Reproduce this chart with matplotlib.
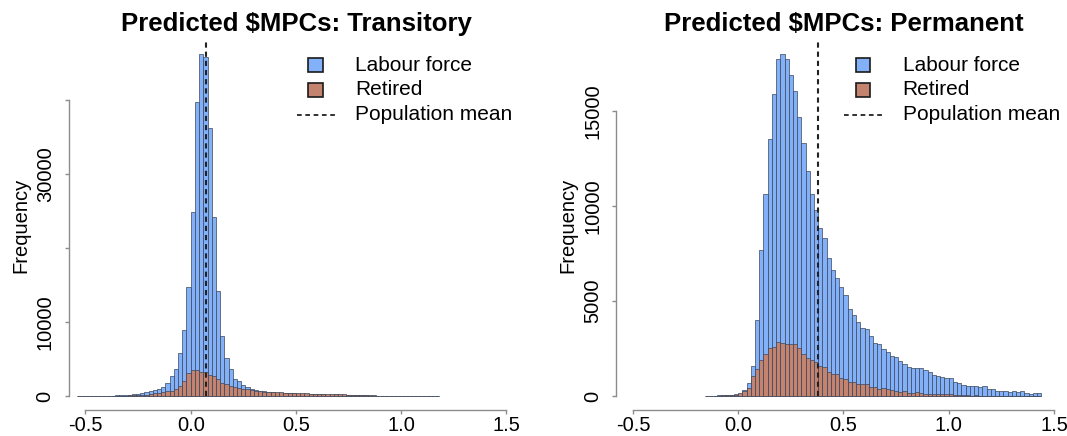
import numpy as np
import matplotlib
matplotlib.use("Agg")
import matplotlib.pyplot as plt
from matplotlib.patches import Rectangle
from matplotlib.lines import Line2D

plt.rcParams['font.family'] = ['Liberation Sans', 'DejaVu Sans']

# ---------------- data ----------------
bin_width = 0.02

# Transitory panel: bins start at -0.54
trans_start = -0.54
trans_labour = [30, 40, 40, 50, 50, 60, 60, 70, 90, 110,
                140, 170, 220, 270, 320, 400, 520, 700, 800, 1050,
                1320, 1750, 2800, 3640, 5880, 8930, 14770, 24870, 39700, 46200,
                45750, 36190, 24200, 14230, 8170, 5210, 3640, 2380, 2070, 1480,
                1300, 1030, 880, 780, 700, 620, 540, 500, 470, 440,
                400, 380, 360, 340, 320, 300, 290, 270, 280, 240,
                230, 260, 180, 160, 150, 140, 130, 120, 110, 90,
                80, 80, 70, 60, 50, 40, 30, 30, 20, 20,
                20, 20, 20, 10, 10, 10]
trans_retired = [20, 20, 25, 25, 30, 30, 35, 40, 45, 60,
                 80, 100, 120, 140, 170, 200, 240, 300, 380, 460,
                 560, 650, 760, 950, 1390, 2070, 3190, 3500, 3550, 3320,
                 3280, 2830, 2740, 2290, 1750, 1620, 1390, 1300, 1170, 1030,
                 940, 850, 720, 680, 640, 600, 570, 550, 520, 490,
                 470, 440, 420, 400, 380, 360, 340, 320, 310, 290,
                 300, 260, 250, 280, 200, 180, 160, 150, 140, 130,
                 120, 100, 90, 90, 80, 70, 60, 50, 40, 40,
                 30, 30, 20, 30, 20, 20]
trans_mean = 0.071

# Permanent panel: bins start at -0.16
perm_start = -0.16
perm_labour = [30, 30, 40, 50, 60, 60, 80, 100,
               130, 330, 720, 1590, 4020, 7710, 10630, 13520, 15880, 17700,
               18000, 17720, 16860, 16020, 14670, 13330, 11860, 10630, 9810, 8850,
               8330, 7280, 6650, 6190, 5750, 5320, 4600, 4280, 3900, 3600,
               3550, 3180, 2780, 2750, 2470, 2340, 2130, 2080, 1870, 1710,
               1560, 1500, 1470, 1470, 1360, 1290, 1140, 1080, 1010, 980,
               940, 770, 680, 610, 525, 525, 525, 470, 560, 400,
               400, 300, 300, 300, 230, 280, 230, 280, 175, 120,
               175, 175]
perm_retired = [20, 20, 30, 40, 50, 60, 70, 80,
                157, 280, 455, 1067, 1417, 1889, 2239, 2553, 2588, 2851,
                2798, 2763, 2763, 2728, 2553, 2239, 2029, 1889, 1801, 1574,
                1539, 1277, 1189, 1189, 980, 892, 770, 770, 665, 665,
                665, 507, 472, 402, 437, 367, 315, 297, 245, 280,
                175, 175, 227, 192, 140, 140, 122, 122, 122, 122,
                122, 70, 70, 70, 70, 35, 70, 35, 35, 17,
                17, 17, 17, 17, 0, 0, 0, 0, 0, 0,
                0, 0]
perm_mean = 0.38

titles = ["Predicted \\$MPCs: Transitory", "Predicted \\$MPCs: Permanent"]
legend_labels = ["Labour force", "Retired", "Population mean"]
x_ticks = [-0.5, 0.0, 0.5, 1.0, 1.5]
x_ticklabels = ["-0.5", "0.0", "0.5", "1.0", "1.5"]
trans_yticks = [0, 10000, 20000, 30000, 40000]
trans_yticklabels = ["0", "10000", "", "30000", ""]
perm_yticks = [0, 5000, 10000, 15000]
perm_yticklabels = ["0", "5000", "10000", "15000"]

# ---------------- style ----------------
blue = '#82B1FA'
red = '#C4836F'
edge = '#3A465A'
axis_gray = '#8C8C8C'

W, H = 1067, 436
fig = plt.figure(figsize=(W / 100, H / 100), dpi=100)

ax_w = 454.7 / W
ax_h = 370 / H
ax_b = (H - 410) / H
axL = fig.add_axes([68.6 / W, ax_b, ax_w, ax_h])
axR = fig.add_axes([616.1 / W, ax_b, ax_w, ax_h])


def panel(ax, start, labour, retired, mean, title, yticks, yticklabels):
    lab = np.asarray(labour, dtype=float)
    ret = np.asarray(retired, dtype=float)
    left_edges = start + bin_width * np.arange(len(lab))
    ax.bar(left_edges, lab, width=bin_width, align='edge', color=blue,
           edgecolor=edge, linewidth=0.5)
    ax.bar(left_edges, ret, width=bin_width, align='edge', color=red,
           edgecolor=edge, linewidth=0.5)
    top = lab.max()
    ax.set_xlim(-0.58, 1.58)
    ax.set_ylim(-0.04 * top, 1.04 * top)
    ax.vlines(mean, 0, 1.04 * top, colors='#222222', linewidth=1.5,
              linestyles=(0, (2.5, 1.9)))

    for s in ['top', 'right']:
        ax.spines[s].set_visible(False)
    for s in ['left', 'bottom']:
        ax.spines[s].set_color(axis_gray)
        ax.spines[s].set_linewidth(1.0)
    ax.spines['bottom'].set_bounds(x_ticks[0], x_ticks[-1])
    ax.spines['left'].set_bounds(yticks[0], yticks[-1])

    ax.set_xticks(x_ticks)
    ax.set_xticklabels(x_ticklabels)
    ax.set_yticks(yticks)
    ax.set_yticklabels(yticklabels, rotation=90, va='center')
    ax.tick_params(axis='both', colors=axis_gray, labelcolor='black',
                   labelsize=14.5, length=3, width=1.0)
    ax.tick_params(axis='x', pad=1)
    ax.tick_params(axis='y', pad=7)

    ax.set_ylabel("Frequency", fontsize=14.5, va='center')
    ax.yaxis.set_label_coords(-0.106, 0.5)
    ax.set_title(title, fontsize=18.5, fontweight='bold', pad=6.5)

    # legend (drawn in axes fraction coordinates)
    tr = ax.transAxes
    sq_w = 14.5 / 454.7
    sq_h = 14.5 / 370
    rows = [0.9324, 0.8649, 0.7973]
    sx = 0.5434
    tx = 0.630
    ax.add_patch(Rectangle((sx - sq_w / 2, rows[0] - sq_h / 2), sq_w, sq_h,
                           transform=tr, facecolor=blue, edgecolor='#1a1a1a',
                           linewidth=1.2, clip_on=False))
    ax.add_patch(Rectangle((sx - sq_w / 2, rows[1] - sq_h / 2), sq_w, sq_h,
                           transform=tr, facecolor=red, edgecolor='#1a1a1a',
                           linewidth=1.2, clip_on=False))
    ax.add_line(Line2D([0.502, 0.586], [rows[2], rows[2]], transform=tr,
                       color='#222222', linewidth=1.3,
                       linestyle=(0, (2.6, 2.0)), clip_on=False))
    for r, lbl in zip(rows, legend_labels):
        ax.text(tx, r, lbl, transform=tr, fontsize=15, va='center', ha='left')


panel(axL, trans_start, trans_labour, trans_retired, trans_mean, titles[0],
      trans_yticks, trans_yticklabels)
panel(axR, perm_start, perm_labour, perm_retired, perm_mean, titles[1],
      perm_yticks, perm_yticklabels)

fig.savefig("out.png", dpi=100)
